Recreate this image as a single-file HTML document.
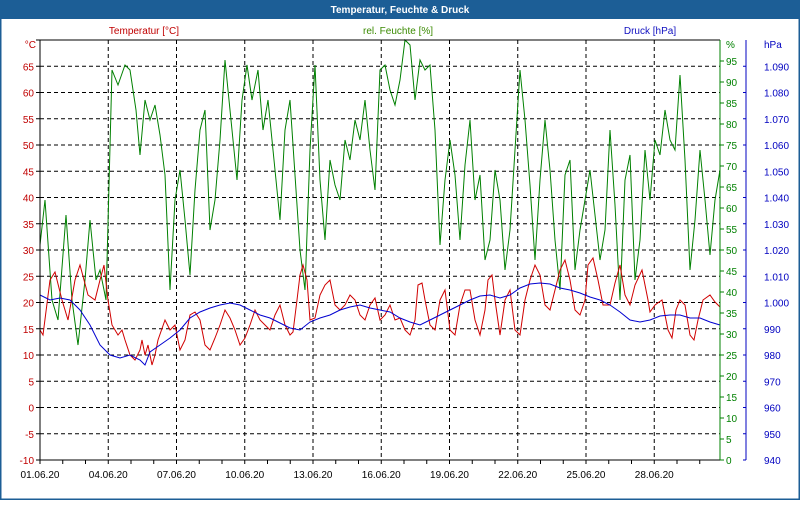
<!DOCTYPE html><html><head><meta charset="utf-8"><style>
body{margin:0;width:800px;height:500px;overflow:hidden;background:#fff;font-family:"Liberation Sans",sans-serif}
</style></head><body>
<svg id="s" width="800" height="500" xmlns="http://www.w3.org/2000/svg" font-family="Liberation Sans, sans-serif" font-size="10">
<rect x="0" y="0" width="800" height="500" fill="#fff"/>
<rect x="0" y="0" width="800" height="19" fill="#1c5e96"/>
<rect x="0.5" y="0.5" width="799" height="499" fill="none" stroke="#1c5e96" stroke-width="2"/>
<text x="400" y="13" fill="#fff" font-weight="bold" text-anchor="middle" font-size="10">Temperatur, Feuchte &amp; Druck</text>
<text x="144" y="34" fill="#c00000" text-anchor="middle">Temperatur [°C]</text>
<text x="398" y="34" fill="#3a8a00" text-anchor="middle">rel. Feuchte [%]</text>
<text x="650" y="34" fill="#1010c0" text-anchor="middle">Druck [hPa]</text>
<g id="grid"></g>
<polyline id="hum" fill="none" stroke="#008000" stroke-width="1"/>
<polyline id="tmp" fill="none" stroke="#d00000" stroke-width="1"/>
<polyline id="prs" fill="none" stroke="#0000d0" stroke-width="1"/>
<line x1="40" y1="40" x2="720" y2="40" stroke="#000"/>
<line x1="40" y1="40" x2="40" y2="460" stroke="#000"/>
<line x1="40" y1="460" x2="720" y2="460" stroke="#000"/>
<line x1="720" y1="40" x2="720" y2="460" stroke="#008000"/>
<line x1="746" y1="40" x2="746" y2="460" stroke="#0000c0"/>
</svg>
<script>
var g=document.getElementById('grid'),h='';
function sx(d){return 40+d*22.75}
for(var i=0;i<=16;i++){var y=40+i*26.25;var T=70-i*5;
 if(i>0&&i<16)h+='<line x1="40" y1="'+y+'" x2="720" y2="'+y+'" stroke="#000" stroke-dasharray="4,3"/>';
 h+='<line x1="36" y1="'+y+'" x2="40" y2="'+y+'" stroke="#000"/>';
 if(i>0)h+='<text x="34" y="'+(y+4)+'" fill="#c00000" text-anchor="end">'+T+'</text>';}
h+='<text x="36" y="48" fill="#c00000" text-anchor="end">°C</text>';
for(var p=0;p<=19;p++){var y=460-p*21;h+='<line x1="720" y1="'+y+'" x2="724" y2="'+y+'" stroke="#008000"/>';
 h+='<text x="726" y="'+(y+4)+'" fill="#008000">'+(p*5)+'</text>';}
h+='<text x="726" y="48" fill="#008000">%</text>';
for(var k=0;k<=15;k++){var y=460-k*26.25;h+='<line x1="743" y1="'+y+'" x2="746" y2="'+y+'" stroke="#0000c0"/>';
 var v=940+k*10;var s=v>=1000?('1.'+String(v-1000).padStart(3,'0')):String(v);
 h+='<text x="764" y="'+(y+4)+'" fill="#0000c0">'+s+'</text>';}
h+='<text x="764" y="48" fill="#0000c0">hPa</text>';
for(var d=0;d<=29;d++){var x=sx(d);h+='<line x1="'+x+'" y1="460" x2="'+x+'" y2="464" stroke="#000"/>';
 if(d%3==0){if(d>0)h+='<line x1="'+x+'" y1="40" x2="'+x+'" y2="460" stroke="#000" stroke-dasharray="4,3"/>';
 var dd=String(d+1).padStart(2,'0');h+='<text x="'+x+'" y="478" fill="#000" text-anchor="middle">'+dd+'.06.20</text>';}}
g.innerHTML=h;
function set(id,a){var s='';for(var i=0;i<a.length;i+=2)s+=a[i]+','+a[i+1]+' ';document.getElementById(id).setAttribute('points',s);}
set('hum',[40,245,45,200,52,300,58,320,66,215,72,300,78,345,85,280,90,220,96,280,100,270,106,300,112,70,118,85,125,65,130,70,136,110,140,155,145,100,150,120,155,105,160,135,165,175,170,290,175,200,180,170,185,220,190,275,195,190,200,130,205,110,210,230,215,200,220,140,225,60,232,130,237,180,242,100,247,65,252,100,258,70,263,130,268,100,275,170,280,220,285,130,290,100,295,175,300,250,305,290,310,150,315,65,320,180,325,240,330,160,335,185,340,200,345,140,350,160,355,120,360,140,365,100,370,150,375,190,380,70,385,65,390,90,395,105,400,80,405,40,410,45,415,100,420,60,425,70,430,65,435,130,440,245,445,180,450,140,455,175,460,240,465,165,470,120,475,200,480,175,485,260,490,240,495,170,500,200,505,270,510,230,515,150,520,70,525,120,530,185,535,260,540,180,545,120,550,170,555,240,560,290,565,175,570,160,575,270,580,230,585,200,590,170,595,215,600,260,605,230,610,130,615,205,620,300,625,180,630,155,635,280,640,240,645,150,650,200,655,140,660,155,665,110,670,140,675,150,680,75,685,160,690,270,695,220,700,150,705,200,710,255,715,200,720,170]);
set('prs',[40,295,50,300,60,298,70,300,80,310,90,325,100,345,110,355,120,358,130,355,140,360,145,365,150,352,160,345,170,338,180,330,190,318,200,312,210,308,220,305,230,303,240,305,250,310,260,315,270,318,280,323,290,328,300,330,310,322,320,318,330,315,340,310,350,307,360,305,370,308,380,310,390,312,400,318,410,322,420,325,430,320,440,315,450,310,460,305,470,300,480,296,490,295,500,298,510,295,520,288,530,284,540,283,550,284,560,288,570,290,580,293,590,297,600,300,610,305,620,312,630,320,640,322,650,320,660,316,670,315,680,315,690,318,700,318,710,322,720,325]);
set('tmp',[40,330,43,335,50,280,55,272,62,300,68,320,75,280,80,265,88,295,95,300,100,280,104,265,108,300,112,325,118,335,122,330,125,340,130,355,135,360,140,350,142,340,145,355,148,345,152,365,155,355,158,340,165,320,170,330,175,325,180,350,185,340,190,315,195,312,200,320,205,345,210,350,215,338,220,325,225,310,230,318,235,330,240,345,245,338,250,325,255,310,260,320,265,325,270,330,275,315,280,305,285,325,290,335,293,332,297,300,300,275,303,265,307,280,310,320,315,318,320,295,325,285,330,280,335,305,340,310,345,305,350,295,355,300,360,315,365,320,370,305,375,298,380,320,385,315,390,305,395,320,400,318,405,330,410,335,415,320,418,285,422,283,425,300,430,325,435,330,440,300,445,290,450,330,455,335,460,305,465,290,470,290,475,320,480,335,485,310,488,280,492,275,495,300,500,335,505,300,510,290,515,330,520,335,525,300,530,280,535,265,540,275,545,305,550,310,555,290,560,270,565,260,570,280,575,310,580,315,585,300,588,265,593,258,598,280,603,305,610,305,615,283,620,265,625,295,630,305,635,285,642,270,648,300,650,312,655,305,662,300,668,330,672,338,676,310,680,300,685,305,690,335,694,340,698,320,703,300,710,295,715,302,720,307]);
</script>
</body></html>
